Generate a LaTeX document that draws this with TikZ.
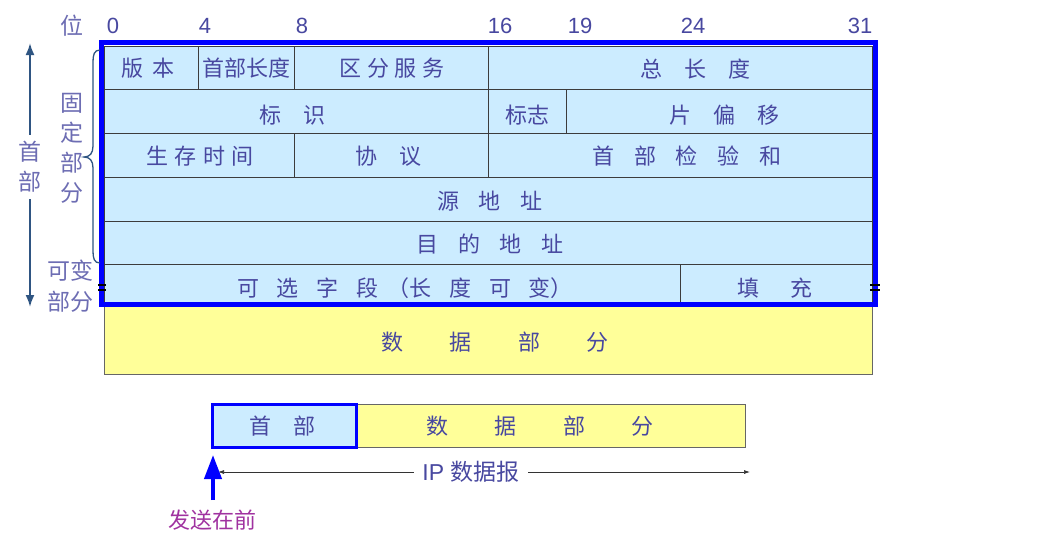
\documentclass[tikz,border=0pt]{standalone}
\usepackage{fontspec}
\setmainfont{Liberation Sans}
\newfontfamily\cjk{Noto Sans CJK SC}
\usetikzlibrary{arrows.meta}
\definecolor{cellblue}{RGB}{204,236,255}
\definecolor{datayel}{RGB}{255,255,153}
\definecolor{txt}{RGB}{72,72,160}
\definecolor{frameblue}{RGB}{0,0,255}
\definecolor{steel}{RGB}{47,85,130}
\definecolor{mag}{RGB}{160,50,160}
\definecolor{gridc}{RGB}{60,60,60}
\tikzset{
  cell/.style={fill=cellblue,draw=gridc,line width=0.8pt},
  datacell/.style={fill=datayel,draw=gray!80!black,line width=0.8pt},
  lbl/.style={text=txt,font=\cjk\fontsize{22}{22}\selectfont,inner sep=0pt,anchor=center},
  bitlbl/.style={text=txt,font=\fontsize{22}{22}\selectfont,inner sep=0pt,anchor=center},
  side/.style={text=txt!80,font=\cjk\fontsize{23}{23}\selectfont,inner sep=0pt,anchor=center},
  brk/.style={draw=black,line width=1.2pt}
}
\begin{document}
\begin{tikzpicture}[x=1pt,y=-1pt]
\useasboundingbox (0,0) rectangle (1043,550);
\fill[white] (0,0) rectangle (1043,550);
% bit labels
\node[side] (wei) at (72,26) {位};
\node[bitlbl] (b0) at (113,26) {0};
\node[bitlbl] (b4) at (205,26) {4};
\node[bitlbl] (b8) at (302,26) {8};
\node[bitlbl] (b16) at (500,26) {16};
\node[bitlbl] (b19) at (580,26) {19};
\node[bitlbl] (b24) at (693,26) {24};
\node[bitlbl] (b31) at (860,26) {31};
% row 1
\draw[cell] (104,46) rectangle (198,89);
\draw[cell] (198,46) rectangle (294,89);
\draw[cell] (294,46) rectangle (488,89);
\draw[cell] (488,46) rectangle (872,89);
% row 2
\draw[cell] (104,89) rectangle (488,133);
\draw[cell] (488,89) rectangle (566,133);
\draw[cell] (566,89) rectangle (872,133);
% row 3
\draw[cell] (104,133) rectangle (294,177);
\draw[cell] (294,133) rectangle (488,177);
\draw[cell] (488,133) rectangle (872,177);
% rows 4,5
\draw[cell] (104,177) rectangle (872,221);
\draw[cell] (104,221) rectangle (872,264);
% row 6
\draw[cell] (104,264) rectangle (680,305);
\draw[cell] (680,264) rectangle (872,305);
% data
\draw[datacell] (104,305) rectangle (872,374);
% frame
\draw[frameblue,line width=5pt] (101,42.5) rectangle (875,304.5);
% break marks
\draw[brk] (98,285) -- (106,285) (98,290) -- (106,290);
\draw[brk] (870,285) -- (880,285) (870,290) -- (880,290);
% cell texts
\node[lbl] (ver) at (148,68) {版\hspace{0.4em}本};
\node[lbl] (ihl) at (246,68) {首部长度};
\node[lbl] (tos) at (392,68) {区\hspace{0.25em}分\hspace{0.25em}服\hspace{0.25em}务};
\node[lbl] (tl) at (695,69) {总\hspace{1em}长\hspace{1em}度};
\node[lbl] (id) at (292,115) {标\hspace{1em}识};
\node[lbl] (flg) at (527,115) {标志};
\node[lbl] (fo) at (724,115) {片\hspace{1em}偏\hspace{1em}移};
\node[lbl] (ttl) at (200,156) {生\hspace{0.3em}存\hspace{0.3em}时\hspace{0.3em}间};
\node[lbl] (pro) at (388,156) {协\hspace{1em}议};
\node[lbl] (cks) at (687,156) {首\hspace{0.9em}部\hspace{0.9em}检\hspace{0.9em}验\hspace{0.9em}和};
\node[lbl] (src) at (490,201) {源\hspace{0.9em}地\hspace{0.9em}址};
\node[lbl] (dst) at (490,244) {目\hspace{0.9em}的\hspace{0.9em}地\hspace{0.9em}址};
\node[lbl] (opt) at (405,288) {可\hspace{0.8em}选\hspace{0.8em}字\hspace{0.8em}段\hspace{0.45em}（长\hspace{0.8em}度\hspace{0.8em}可\hspace{0.8em}变）};
\node[lbl] (pad) at (775,288) {填\hspace{1.4em}充};
\node[lbl] (dat) at (495,342) {数\hspace{2.1em}据\hspace{2.1em}部\hspace{2.1em}分};
% left side
\draw[steel,line width=2pt,{Latex[length=12pt,width=9pt]}-{Latex[length=12pt,width=9pt]}] (30,43) -- (30,307);
\node[side,fill=white,inner ysep=6pt,inner xsep=4pt,align=center] (shou) at (30,167) {首\\[7pt]部};
\node[side,align=center] (gd) at (72,148) {固\\[7pt]定\\[7pt]部\\[7pt]分};
\node[side,align=center,anchor=center] (kb) at (70,286) {可变\\[8pt]部分};
\draw[steel,line width=1.3pt] (100,50) .. controls (94,50) and (93,55) .. (93,62) -- (93,146) .. controls (93,153) and (90,157) .. (84,157) .. controls (90,157) and (93,161) .. (93,168) -- (93,251) .. controls (93,258) and (94,263) .. (100,263);
% bottom datagram
\draw[datacell] (356,404) rectangle (745,447);
\draw[fill=cellblue,draw=frameblue,line width=3pt] (212,404) rectangle (356,447);
\node[lbl] (sb) at (282,426) {首\hspace{1em}部};
\node[lbl] (db) at (540,426) {数\hspace{2.1em}据\hspace{2.1em}部\hspace{2.1em}分};
\coordinate (ipl) at (218,472);
\coordinate (ipr) at (750,472);
\draw[black!80,line width=0.7pt,{Latex[length=6pt,width=4pt]}-{Latex[length=6pt,width=4pt]}] (ipl) -- (ipr);
\node[fill=white,text=txt,inner xsep=8pt,inner ysep=3pt,font=\fontsize{23}{23}\selectfont] (ip) at (471,472) {IP {\cjk 数据报}};
\coordinate (upb) at (213,500);
\coordinate (upt) at (213,455);
\draw[frameblue,line width=4pt,-{Triangle[length=24pt,width=17pt]}] (upb) -- (upt);
\node[text=mag,font=\cjk\fontsize{22}{22}\selectfont,inner sep=0pt] (fs) at (212,520) {发送在前};
\end{tikzpicture}
\end{document}
